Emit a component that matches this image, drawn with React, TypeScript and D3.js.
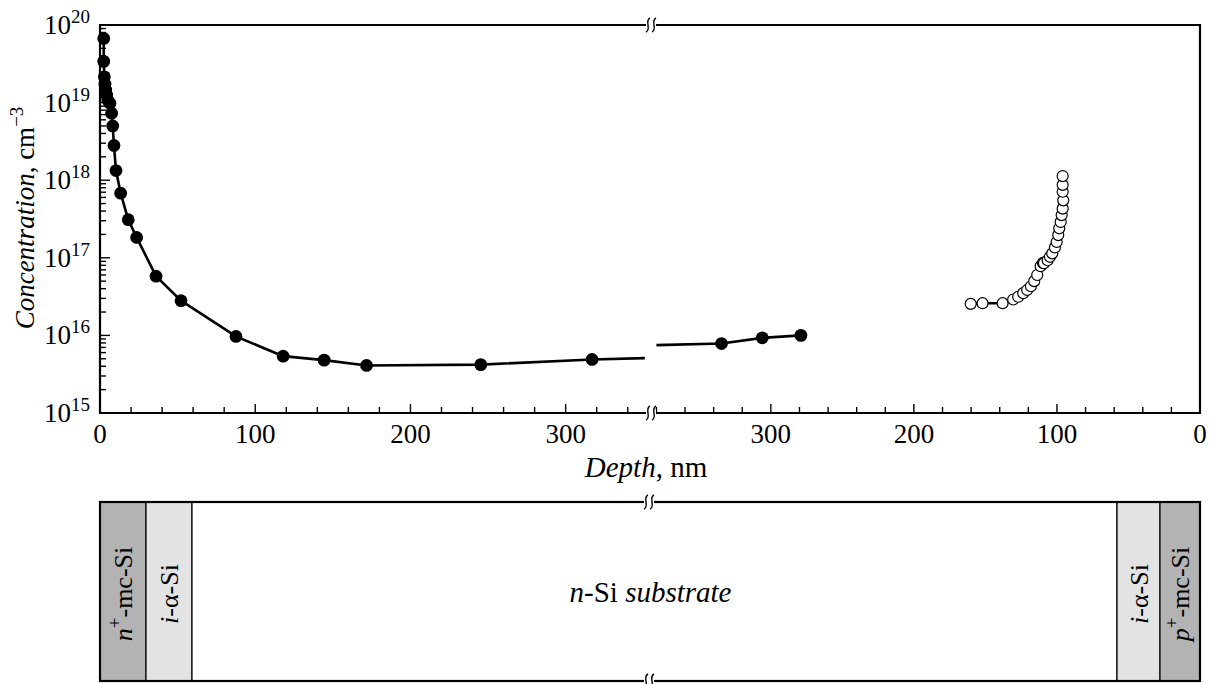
import React, { useRef, useEffect } from "react";
import * as d3 from "d3";

// front side (from n+ contact), filled circles
export const frontDepth = [2.4, 2.4, 2.8, 3.2, 3.7, 4.3, 5.0, 6.4, 7.5, 8.2, 9.0, 10.3, 13.3, 18.2, 23.6, 36.1, 52.2, 87.6, 118, 144.4, 171.7, 245.3, 317];
export const frontConc = [6.7e19, 3.4e19, 2.15e19, 1.73e19, 1.45e19, 1.25e19, 1.08e19, 9.8e18, 7.3e18, 5.0e18, 2.8e18, 1.33e18, 6.8e17, 3.1e17, 1.83e17, 5.8e16, 2.8e16, 9.7e15, 5.4e15, 4.8e15, 4.1e15, 4.2e15, 4.9e15];
// the line runs on to the axis break (no marker there)
export const frontTail = { depth: 351, conc: 5.1e15 };

// rear side (from p+ contact), filled circles
export const rearDepth = [334.5, 306, 279];
export const rearConc = [7.85e15, 9.3e15, 1.0e16];
export const rearTail = { depth: 380, conc: 7.5e15 };

// rear side, open circles
export const openDepth = [160.3, 152.0, 138.0, 130.6, 127.1, 123.6, 120.8, 118.2, 115.9, 113.8, 111.4, 109.8, 109.1, 106.5, 104.9, 103.3, 101.4, 100.2, 99.1, 98.4, 97.4, 96.7, 96.0, 95.6, 96.0, 96.0, 96.0];
export const openConc = [2.55e16, 2.6e16, 2.6e16, 2.9e16, 3.15e16, 3.5e16, 3.85e16, 4.3e16, 5.0e16, 6.0e16, 7.8e16, 8.6e16, 8.5e16, 9.3e16, 1.03e17, 1.14e17, 1.36e17, 1.6e17, 1.96e17, 2.4e17, 2.9e17, 3.55e17, 4.3e17, 5.5e17, 7.1e17, 8.7e17, 1.13e18];

export const depthTicks = [0, 100, 200, 300];
export const decades = [15, 16, 17, 18, 19, 20];

// structure below the plot, relative widths
export const layers = [
  { parts: [{ t: "n", i: true }, { t: "+", sup: true }, { t: "-mc-Si" }], w: 46, fill: "#b3b3b3" },
  { parts: [{ t: "i", i: true }, { t: "-\u03b1-Si" }], w: 46, fill: "#e3e3e3" },
  { parts: [{ t: "n", i: true }, { t: "-Si " }, { t: "substrate", i: true }], w: 925, fill: "#ffffff" },
  { parts: [{ t: "i", i: true }, { t: "-\u03b1-Si" }], w: 43, fill: "#e3e3e3" },
  { parts: [{ t: "p", i: true }, { t: "+", sup: true }, { t: "-mc-Si" }], w: 40, fill: "#b3b3b3" },
];

const serif = "'Liberation Serif', 'Times New Roman', serif";

// write text pieces with italic / superscript parts
function rich(text, parts, size) {
  let up = 0;
  parts.forEach((p) => {
    const want = p.sup ? Math.round(size * 0.42) : 0;
    const ts = text.append("tspan").text(p.t);
    if (want !== up) ts.attr("dy", up - want);
    up = want;
    if (p.i) ts.style("font-style", "italic");
    if (p.sup) ts.style("font-size", Math.round(size * 0.72) + "px");
  });
}

function breakMark(g, x, y) {
  g.append("rect").attr("x", x - 5).attr("y", y - 3).attr("width", 10).attr("height", 6).attr("fill", "#fff");
  [-3, 3].forEach((o) => {
    const c = x + o;
    g.append("path")
      .attr("d", `M${c + 2},${y - 7} C${c - 4},${y - 4} ${c + 4},${y + 4} ${c - 2},${y + 7}`)
      .attr("fill", "none")
      .attr("stroke", "#000")
      .attr("stroke-width", 1.4);
  });
}

const ProfileChart = () => {
  const ref = useRef(null);

  useEffect(() => {
    const svg = d3.select(ref.current);
    svg.selectAll("*").remove();

    const left = 100, right = 1200, top = 25, bottom = 413, brk = 651;
    const xL = d3.scaleLinear().domain([0, 352.4]).range([left, brk - 4]);
    const xR = d3.scaleLinear().domain([381, 0]).range([brk + 4, right]);
    const y = d3.scaleLog().domain([1e15, 1e20]).range([bottom, top]);

    const g = svg.append("g");

    // frame
    const frame = g.append("g").attr("stroke", "#000").attr("stroke-width", 2.2).attr("fill", "none");
    frame.append("line").attr("x1", left).attr("x2", left).attr("y1", top - 1).attr("y2", bottom + 1);
    frame.append("line").attr("x1", right).attr("x2", right).attr("y1", top - 1).attr("y2", bottom + 1);
    [top, bottom].forEach((yy) => {
      frame.append("line").attr("x1", left).attr("x2", right).attr("y1", yy).attr("y2", yy);
    });

    // y ticks
    const yt = g.append("g").attr("stroke", "#000").attr("stroke-width", 1.4);
    decades.forEach((d) => {
      const v = Math.pow(10, d);
      yt.append("line").attr("x1", left).attr("x2", left + 10).attr("y1", y(v)).attr("y2", y(v));
      if (d < 20) {
        d3.range(2, 10).forEach((m) => {
          yt.append("line").attr("x1", left).attr("x2", left + 6).attr("y1", y(m * v)).attr("y2", y(m * v));
        });
      }
    });
    decades.forEach((d) => {
      const t = g.append("text")
        .attr("x", left - 10)
        .attr("y", y(Math.pow(10, d)) + 9)
        .attr("text-anchor", "end")
        .style("font-family", serif)
        .style("font-size", "27px");
      rich(t, [{ t: "10" }, { t: String(d), sup: true }], 27);
    });

    // x ticks on both halves
    [[xL, 352], [xR, 381]].forEach(([sc, max]) => {
      d3.range(0, max, 20).forEach((v) => {
        const major = v % 100 === 0;
        yt.append("line").attr("x1", sc(v)).attr("x2", sc(v)).attr("y1", bottom).attr("y2", bottom - (major ? 9 : 6));
      });
      depthTicks.forEach((v) => {
        g.append("text")
          .attr("x", sc(v))
          .attr("y", bottom + 30)
          .attr("text-anchor", "middle")
          .style("font-family", serif)
          .style("font-size", "27px")
          .text(v);
      });
    });

    breakMark(g, brk, top);
    breakMark(g, brk, bottom);

    // axis titles
    const xt = g.append("text").attr("x", brk - 5).attr("y", 477).attr("text-anchor", "middle")
      .style("font-family", serif).style("font-size", "29px");
    rich(xt, [{ t: "Depth", i: true }, { t: ", nm" }], 29);
    const ytl = g.append("text").attr("transform", "translate(34,218) rotate(-90)").attr("text-anchor", "middle")
      .style("font-family", serif).style("font-size", "27px");
    rich(ytl, [{ t: "Concentration", i: true }, { t: ", cm" }, { t: "\u22123", sup: true }], 27);

    // series
    const line = (sc) => d3.line().x((d) => sc(d[0])).y((d) => y(d[1]));
    const front = frontDepth.map((d, i) => [d, frontConc[i]]);
    const rear = rearDepth.map((d, i) => [d, rearConc[i]]);
    const open = openDepth.map((d, i) => [d, openConc[i]]);

    const plot = g.append("g");
    plot.append("path").attr("d", line(xL)([...front, [frontTail.depth, frontTail.conc]]))
      .attr("fill", "none").attr("stroke", "#000").attr("stroke-width", 2.6);
    plot.append("path").attr("d", line(xR)([[rearTail.depth, rearTail.conc], ...rear]))
      .attr("fill", "none").attr("stroke", "#000").attr("stroke-width", 2.6);
    plot.append("path").attr("d", line(xR)(open))
      .attr("fill", "none").attr("stroke", "#000").attr("stroke-width", 2.6);

    plot.selectAll(".f").data(front).enter().append("circle")
      .attr("cx", (d) => xL(d[0])).attr("cy", (d) => y(d[1])).attr("r", 6.4).attr("fill", "#000");
    plot.selectAll(".r").data(rear).enter().append("circle")
      .attr("cx", (d) => xR(d[0])).attr("cy", (d) => y(d[1])).attr("r", 6.4).attr("fill", "#000");
    plot.selectAll(".o").data(open).enter().append("circle")
      .attr("cx", (d) => xR(d[0])).attr("cy", (d) => y(d[1])).attr("r", 5.5)
      .attr("fill", "#fff").attr("stroke", "#000").attr("stroke-width", 1.2);

    // device structure
    const sTop = 502, sBot = 681;
    const cum = [0];
    layers.forEach((l) => cum.push(cum[cum.length - 1] + l.w));
    const xs = d3.scaleLinear().domain([0, cum[cum.length - 1]]).range([left, right]);
    const st = g.append("g");
    layers.forEach((l, i) => {
      const x0 = xs(cum[i]), x1 = xs(cum[i + 1]);
      st.append("rect").attr("x", x0).attr("y", sTop).attr("width", x1 - x0).attr("height", sBot - sTop)
        .attr("fill", l.fill).attr("stroke", "#000").attr("stroke-width", 1.2);
      const cx = (x0 + x1) / 2;
      const fs = i === 2 ? 29 : 26;
      const t = st.append("text").style("font-family", serif).style("font-size", fs + "px").attr("text-anchor", "middle");
      if (i === 2) t.attr("x", cx - 4).attr("y", 602);
      else t.attr("transform", `translate(${cx + 9},594) rotate(-90)`);
      rich(t, l.parts, fs);
    });
    st.append("rect").attr("x", left).attr("y", sTop).attr("width", right - left).attr("height", sBot - sTop)
      .attr("fill", "none").attr("stroke", "#000").attr("stroke-width", 2.2);
    breakMark(st, brk - 2, sTop);
    breakMark(st, brk - 2, sBot);
  }, []);

  return (
    <svg ref={ref} width={1210} height={684}
      style={{ position: "absolute", left: 0, top: 0, background: "#fff" }} />
  );
};

export default function App() {
  return <ProfileChart />;
}
